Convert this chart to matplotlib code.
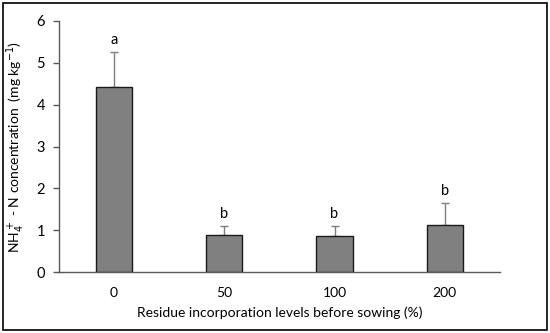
import matplotlib.pyplot as plt
from matplotlib.patches import Rectangle

categories = ['0', '50', '100', '200']
values = [4.43, 0.88, 0.86, 1.12]
errors = [0.83, 0.21, 0.25, 0.52]
letters = ['a', 'b', 'b', 'b']

plt.rcParams['font.family'] = ['Lato', 'DejaVu Sans']

fig = plt.figure(figsize=(5.5, 3.33), dpi=100)
ax = fig.add_axes([0.107, 0.183, 0.802, 0.754])

x = range(len(categories))
ax.bar(x, values, width=0.33, color='#808080', edgecolor='#1a1a1a', linewidth=1.0, zorder=2)
ax.errorbar(x, values, yerr=[[0] * len(values), errors], fmt='none',
            ecolor='#7f7f7f', elinewidth=1.0, capsize=3, capthick=1.0, zorder=1)
for i, (v, e, t) in enumerate(zip(values, errors, letters)):
    ax.text(i, v + e + 0.12, t, ha='center', va='bottom', fontsize=10.5)

ax.set_xlim(-0.5, 3.5)
ax.set_ylim(0, 6)
ax.set_xticks(list(x))
ax.set_xticklabels(categories)
ax.set_yticks(range(0, 7))
ax.tick_params(axis='x', length=0, pad=11, labelsize=10)
ax.tick_params(axis='y', length=4, width=1, color='#595959', labelsize=10.5, pad=6)
for s in ['top', 'right']:
    ax.spines[s].set_visible(False)
for s in ['left', 'bottom']:
    ax.spines[s].set_color('#595959')
    ax.spines[s].set_linewidth(1.0)

ax.set_xlabel('Residue incorporation levels before sowing (%)', fontsize=10, labelpad=5)
ax.set_ylabel(r'NH$_4^+$ - N concentration  (mg kg$^{-1}$)', fontsize=10, labelpad=7)

fig.patches.append(Rectangle((0.006, 0.008), 0.988, 0.984, transform=fig.transFigure,
                             fill=False, edgecolor='black', linewidth=1.2))

fig.savefig('out.png', dpi=100)
